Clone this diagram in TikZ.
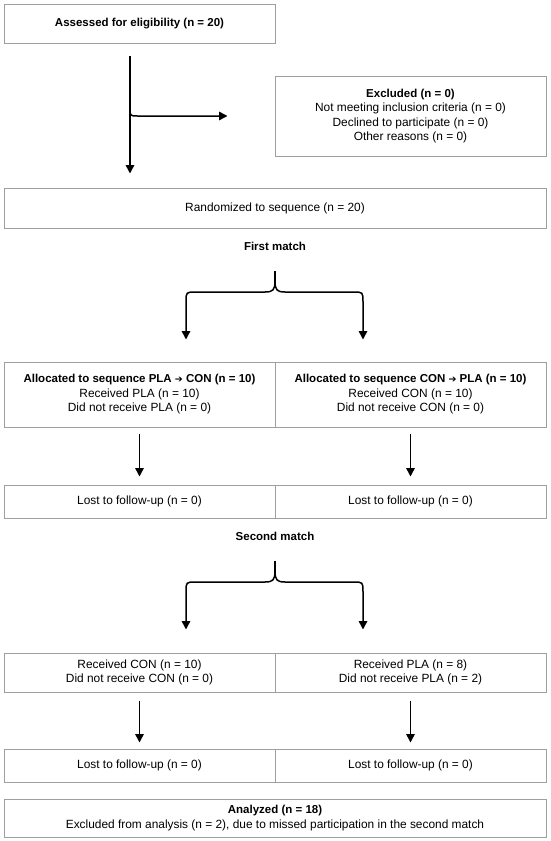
\documentclass[tikz,border=0pt]{standalone}
\usepackage{fontspec}
\setmainfont{Liberation Sans}
\newfontfamily\arrowfont{DejaVu Sans}
\usetikzlibrary{arrows.meta,calc}
\newcommand{\seqarrow}{{\arrowfont\bfseries\fontsize{9.5}{14.5}\selectfont ➔}}
\begin{document}
\begin{tikzpicture}[x=1pt,y=-1pt,
  box/.style={draw=gray!75, line width=1pt, minimum height=#1, inner sep=2pt,
    align=center, font=\fontsize{11.9}{14.5}\selectfont},
  box/.default=33,
  lbl/.style={font=\fontsize{11.5}{14.5}\selectfont\bfseries},
  arr/.style={line width=1.5pt, -{Triangle[length=8.5pt,width=8.5pt]}},
  ln/.style={line width=1.5pt}]
\useasboundingbox (0,0) rectangle (550,841);
\tikzset{half/.style={box=#1, minimum width=271}, full/.style={box=#1, minimum width=542}}
% boxes
\node[half=39] (elig) at (139.5,23.5) {{\fontsize{11.5}{14.5}\selectfont\bfseries Assessed for eligibility (n = 20)}};
\node[half=80] (excl) at (410.5,116) {{\fontsize{11.5}{14.5}\selectfont\bfseries Excluded (n = 0)}\\Not meeting inclusion criteria (n = 0)\\Declined to participate (n = 0)\\Other reasons (n = 0)};
\node[full=40] (rand) at (275,208) {Randomized to sequence (n = 20)};
\node[lbl] (first) at (275,246) {First match};
\node[half=65] (alA) at (139.5,394.5) {{\fontsize{11.5}{14.5}\selectfont\bfseries Allocated to sequence PLA \seqarrow{} CON (n = 10)}\\Received PLA (n = 10)\\Did not receive PLA (n = 0)};
\node[half=65] (alB) at (410.5,394.5) {{\fontsize{11.5}{14.5}\selectfont\bfseries Allocated to sequence CON \seqarrow{} PLA (n = 10)}\\Received CON (n = 10)\\Did not receive CON (n = 0)};
\node[half=33] (lostA) at (139.5,501.5) {Lost to follow-up (n = 0)};
\node[half=33] (lostB) at (410.5,501.5) {Lost to follow-up (n = 0)};
\node[lbl] (second) at (275,536) {Second match};
\node[half=39] (recA) at (139.5,672.5) {Received CON (n = 10)\\Did not receive CON (n = 0)};
\node[half=39] (recB) at (410.5,672.5) {Received PLA (n = 8)\\Did not receive PLA (n = 2)};
\node[half=33] (lost2A) at (139.5,765.5) {Lost to follow-up (n = 0)};
\node[half=33] (lost2B) at (410.5,765.5) {Lost to follow-up (n = 0)};
\node[full=38] (anal) at (275,818) {{\fontsize{11.5}{14.5}\selectfont\bfseries Analyzed (n = 18)}\\Excluded from analysis (n = 2), due to missed participation in the second match};
% eligibility flow
\coordinate (vx) at (130,0);
\coordinate (br) at (130,108);
\draw[arr, shorten <=12pt, shorten >=14pt] (elig.south -| vx) -- (rand.north -| vx);
\draw[arr, shorten >=47pt] (br) .. controls (130,116) .. (138,116) -- (excl.west);
% first match brace
\coordinate (b1top) at (275,271);
\coordinate (lx) at (186,0);
\coordinate (rx) at (363,0);
\draw[ln] (b1top) -- (275,281);
\draw[arr, shorten >=22pt] (275,281) .. controls (275,290) and (273,292) .. (265,292) -- (196,292) .. controls (186,292) .. (186,302) -- (alA.north -| lx);
\draw[arr, shorten >=22pt] (275,281) .. controls (275,290) and (277,292) .. (285,292) -- (353,292) .. controls (363,292) .. (363,302) -- (alB.north -| rx);
\draw[arr, shorten <=6pt, shorten >=8pt] (alA.south) -- (lostA.north);
\draw[arr, shorten <=6pt, shorten >=8pt] (alB.south) -- (lostB.north);
% second match brace
\coordinate (b2top) at (275,561);
\draw[ln] (b2top) -- (275,571);
\draw[arr, shorten >=23pt] (275,571) .. controls (275,580) and (273,582) .. (265,582) -- (196,582) .. controls (186,582) .. (186,592) -- (recA.north -| lx);
\draw[arr, shorten >=23pt] (275,571) .. controls (275,580) and (277,582) .. (285,582) -- (353,582) .. controls (363,582) .. (363,592) -- (recB.north -| rx);
\draw[arr, shorten <=8pt, shorten >=6pt] (recA.south) -- (lost2A.north);
\draw[arr, shorten <=8pt, shorten >=6pt] (recB.south) -- (lost2B.north);
\end{tikzpicture}
\end{document}
